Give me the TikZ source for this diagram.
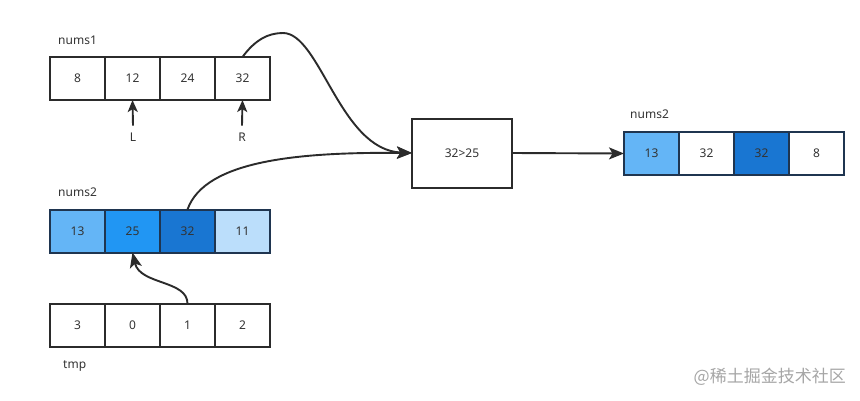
\documentclass[tikz,border=0pt]{standalone}
\usepackage{fontspec}
\setmainfont{Noto Sans}
\newfontfamily\cjkfont{Noto Sans CJK SC}
\usetikzlibrary{arrows.meta}
\definecolor{txt}{HTML}{333333}
\definecolor{edge}{HTML}{2B2B2B}
\definecolor{navy}{HTML}{1F3550}
\definecolor{blueA}{HTML}{64B5F6}
\definecolor{blueB}{HTML}{2196F3}
\definecolor{blueC}{HTML}{1976D2}
\definecolor{blueD}{HTML}{BBDEFB}
\tikzset{
  cell/.style={draw=edge, line width=2pt, minimum width=55pt, minimum height=43pt,
    inner sep=0pt, outer sep=0pt, text=txt, font=\fontsize{12}{14}\selectfont},
  bcell/.style={cell, draw=navy},
  lbl/.style={text=txt, font=\fontsize{12}{14}\selectfont, inner sep=0pt, anchor=west},
  conn/.style={draw=edge, line width=1.9pt, -{Stealth[length=15pt,width=12pt,inset=3.5pt]}},
}
\begin{document}
\begin{tikzpicture}[x=1pt,y=-1pt]
\useasboundingbox[fill=white] (0,0) rectangle (860,400);
% nums1
\node[lbl] (n1lbl) at (58,40) {nums1};
\node[cell] (a1) at (77.5,78.5) {8};
\node[cell] (a2) at (132.5,78.5) {12};
\node[cell] (a3) at (187.5,78.5) {24};
\node[cell] (a4) at (242.5,78.5) {32};
\node[lbl, anchor=center] (L) at (133,137) {L};
\node[lbl, anchor=center] (R) at (242,137) {R};
\draw[conn, -{Stealth[length=12pt,width=10pt,inset=3pt]}] (L.north) ++(0,-7) coordinate (Lb) -- (a2.south);
\draw[conn, -{Stealth[length=12pt,width=10pt,inset=3pt]}] (R.north) ++(0,-7) coordinate (Rb) -- (a4.south);
% nums2 left
\node[lbl] (n2lbl) at (58,192) {nums2};
\node[bcell, fill=blueA] (b1) at (77.5,231) {13};
\node[bcell, fill=blueB] (b2) at (132.5,231) {25};
\node[bcell, fill=blueC] (b3) at (187.5,231) {32};
\node[bcell, fill=blueD] (b4) at (242.5,231) {11};
% tmp
\node[cell] (t1) at (77.5,325.5) {3};
\node[cell] (t2) at (132.5,325.5) {0};
\node[cell] (t3) at (187.5,325.5) {1};
\node[cell] (t4) at (242.5,325.5) {2};
\node[lbl] (tmplbl) at (63,366) {tmp};
% compare box
\node[cell, minimum width=100pt, minimum height=69pt] (cmp) at (462,153) {32>25};
% nums2 right
\node[lbl] (n3lbl) at (630,114) {nums2};
\node[bcell, fill=blueA] (c1) at (651.5,153.5) {13};
\node[bcell] (c2) at (706.5,153.5) {32};
\node[bcell, fill=blueC] (c3) at (761.5,153.5) {32};
\node[bcell] (c4) at (816.5,153.5) {8};
% connectors
\draw[conn] (a4.north) .. controls (255,40) and (268,33) .. (283,33)
   .. controls (320,33) and (340,150) .. (cmp.west);
\draw[conn] (b3.north) .. controls (205,160) and (300,152) .. (cmp.west);
\draw[conn] (t3.north) .. controls (188,280) and (140,285) .. (b2.south);
\draw[conn] (cmp.east) -- (c1.west);
% watermark
\node[text=gray!70, font=\cjkfont\fontsize{17}{19}\selectfont, anchor=east, inner sep=0pt] (wm) at (846,377) {@稀土掘金技术社区};
\end{tikzpicture}
\end{document}
